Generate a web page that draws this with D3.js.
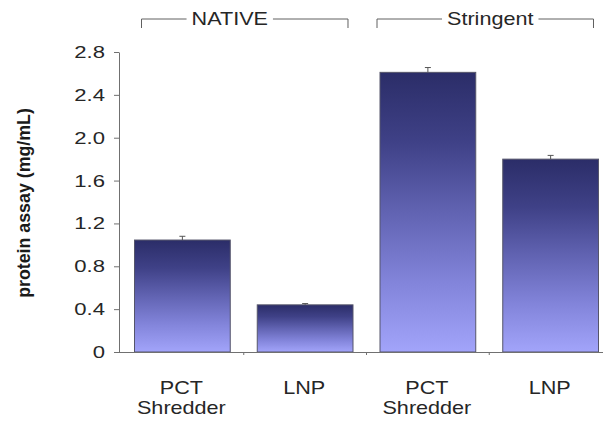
<!DOCTYPE html>
<html>
<head>
<meta charset="utf-8">
<script src="https://cdn.jsdelivr.net/npm/d3@7"></script>
<style>
  html, body { margin: 0; padding: 0; background: #fff; }
  svg { display: block; font-family: "Liberation Sans", Arial, sans-serif; }
</style>
</head>
<body>
<svg id="chart" width="603" height="421"></svg>
<script>
// ---- data ----
const categories = ["PCT\nShredder", "LNP", "PCT\nShredder", "LNP"];
const values = [1.045, 0.44, 2.61, 1.80];
const errors = [0.035, 0.012, 0.045, 0.035];
const groups = ["NATIVE", "Stringent"];
const yTicks = [0, 0.4, 0.8, 1.2, 1.6, 2.0, 2.4, 2.8];
const yTickLabels = ["0", "0.4", "0.8", "1.2", "1.6", "2.0", "2.4", "2.8"];
const yTitle = "protein assay (mg/mL)";

// ---- layout ----
const svg = d3.select("#chart");
const x0 = 119, yBottom = 352, yTop = 52;
const textColor = "#262626";

const x = d3.scaleBand().domain(d3.range(categories.length)).range([121, 612]).paddingInner(0.22).paddingOuter(0.11);
const y = d3.scaleLinear().domain([0, 2.8]).range([yBottom, yTop]);

// helper: horizontally widened text (the reference glyphs are stretched)
function wideText(parent, tx, ty, str, size, sx, anchor) {
  return parent.append("text")
    .attr("transform", `translate(${tx},${ty}) scale(${sx},1)`)
    .attr("text-anchor", anchor || "middle")
    .attr("font-size", size).attr("fill", textColor).text(str);
}

// gradient
const defs = svg.append("defs");
const grad = defs.append("linearGradient").attr("id", "barGrad")
  .attr("x1", 0).attr("y1", 0).attr("x2", 0).attr("y2", 1);
[[0, "#2b2d68"], [0.25, "#3f4187"], [0.5, "#6163b2"], [0.75, "#8284da"], [1, "#a2a4fa"]]
  .forEach(([o, c]) => grad.append("stop").attr("offset", o).attr("stop-color", c));

// bars
svg.append("g").selectAll("rect").data(values).join("rect")
  .attr("x", (d, i) => x(i))
  .attr("y", d => y(d))
  .attr("width", x.bandwidth())
  .attr("height", d => y(0) - y(d))
  .attr("fill", "url(#barGrad)")
  .attr("stroke", "#55556a")
  .attr("stroke-width", 1);

// error bars
const eb = svg.append("g").attr("stroke", "#555").attr("stroke-width", 1);
values.forEach((v, i) => {
  const cx = x(i) + x.bandwidth() / 2;
  eb.append("line").attr("x1", cx).attr("x2", cx).attr("y1", y(v)).attr("y2", y(v + errors[i]));
  eb.append("line").attr("x1", cx - 3).attr("x2", cx + 3).attr("y1", y(v + errors[i])).attr("y2", y(v + errors[i]));
});

// y axis
const yAxis = d3.axisLeft(y).tickValues(yTicks).tickFormat("").tickSize(5).tickSizeOuter(0);
const gy = svg.append("g").attr("transform", `translate(${x0},0)`).call(yAxis);
gy.select(".domain").attr("stroke", "#707070");
gy.selectAll(".tick line").attr("stroke", "#707070");
yTicks.forEach((t, i) => {
  wideText(svg, 105, y(t) + 6, yTickLabels[i], 17, 1.3, "end");
});

// x axis line with boundary ticks
const gx = svg.append("g");
gx.append("line").attr("x1", x0).attr("x2", 603).attr("y1", yBottom + 0.5).attr("y2", yBottom + 0.5).attr("stroke", "#707070");
const step = x.step();
d3.range(1, categories.length).forEach(i => {
  const bx = x(i) - (step - x.bandwidth()) / 2;
  gx.append("line").attr("x1", bx).attr("x2", bx).attr("y1", yBottom).attr("y2", yBottom + 3).attr("stroke", "#707070");
});

// x labels
categories.forEach((c, i) => {
  const cx = x(i) + x.bandwidth() / 2 - 1;
  c.split("\n").forEach((line, k) => {
    wideText(svg, cx, 394 + k * 20, line, 18, 1.2);
  });
});

// y title
svg.append("text").attr("transform", `translate(30,203) rotate(-90)`)
  .attr("text-anchor", "middle").attr("font-size", 17.8).attr("font-weight", "bold")
  .attr("fill", "#1a1a1a").text(yTitle);

// group brackets
const gb = svg.append("g");
const bracketY = 19;
groups.forEach((g, gi) => {
  const left = gi === 0 ? x(0) + 7 : x(2) - 3;
  const right = x(gi * 2 + 1) + x.bandwidth() - 5;
  const textMid = gi === 0 ? (left + right) / 2 - 15 : (left + right) / 2 + 5;
  const t = wideText(gb, textMid, bracketY + 6, g, 18, 1.2);
  const w = t.node().getComputedTextLength() * 1.2;
  const pad = 5;
  gb.append("path")
    .attr("d", `M${left},${bracketY + 9}V${bracketY}H${textMid - w / 2 - pad}M${textMid + w / 2 + pad},${bracketY}H${right}V${bracketY + 9}`)
    .attr("fill", "none").attr("stroke", "#606060").attr("stroke-width", 1);
});
</script>
</body>
</html>
